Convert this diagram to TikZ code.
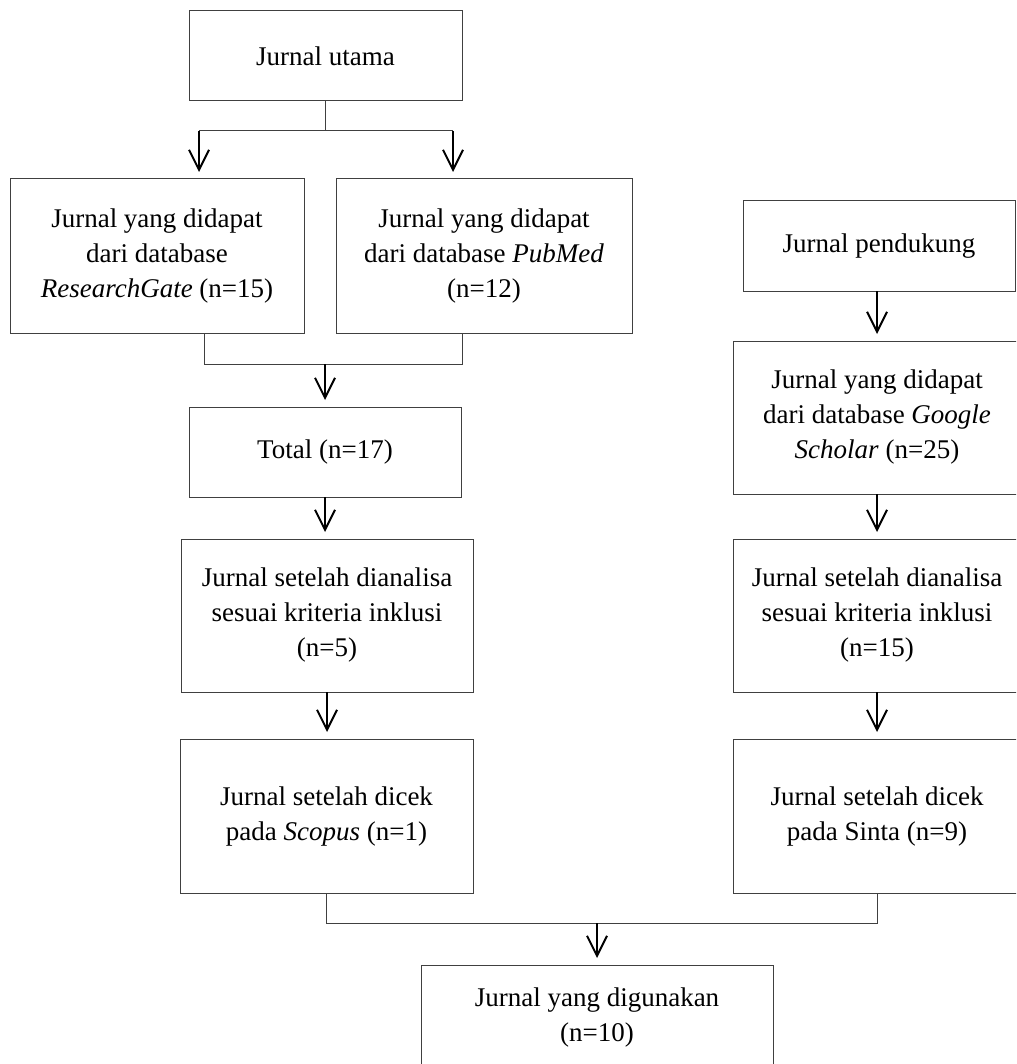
\documentclass[tikz,border=0pt]{standalone}
\usepackage{fontspec}
\setmainfont{Liberation Serif}
\usetikzlibrary{arrows.meta}
\begin{document}
\begin{tikzpicture}[x=0.5pt,y=-0.5pt,
  box/.style={draw=black!75, line width=0.5pt, inner sep=0pt, outer sep=0pt, align=center, font=\fontsize{13.5}{17.5}\selectfont},
  link/.style={draw=black!75, line width=0.5pt},
  arr/.style={draw=black, line width=1pt, -{Straight Barb[length=10pt,width=10pt,line width=1pt]}, shorten >=3.5pt}]
\useasboundingbox (0,0) rectangle (1016,1064);
\clip (0,0) rectangle (1016,1064);
\node[box, minimum width=136.5pt, minimum height=45pt] (utama) at (325.5,56) {Jurnal utama};
\node[box, minimum width=147pt, minimum height=77pt] (rg) at (157,256) {Jurnal yang didapat\\dari database\\\textit{ResearchGate} (n=15)};
\node[box, minimum width=148pt, minimum height=77pt] (pm) at (484,256) {Jurnal yang didapat\\dari database \textit{PubMed}\\(n=12)};
\node[box, minimum width=136pt, minimum height=45pt] (pend) at (879,246) {Jurnal pendukung};
\node[box, minimum width=144pt, minimum height=76.5pt] (gs) at (877,417.5) {Jurnal yang didapat\\dari database \textit{Google}\\\textit{Scholar} (n=25)};
\node[box, minimum width=136pt, minimum height=45pt] (total) at (325,452) {Total (n=17)};
\node[box, minimum width=146pt, minimum height=76.5pt] (anl) at (327,615.5) {Jurnal setelah dianalisa\\sesuai kriteria inklusi\\(n=5)};
\node[box, minimum width=144pt, minimum height=76.5pt] (anr) at (877,615.5) {Jurnal setelah dianalisa\\sesuai kriteria inklusi\\(n=15)};
\node[box, minimum width=146.5pt, minimum height=77pt] (scopus) at (326.5,816) {Jurnal setelah dicek\\pada \textit{Scopus} (n=1)};
\node[box, minimum width=144pt, minimum height=77pt] (sinta) at (877,816) {Jurnal setelah dicek\\pada Sinta (n=9)};
\node[box, minimum width=176pt, minimum height=52pt] (final) at (597,1017) {Jurnal yang digunakan\\(n=10)};
% top split
\coordinate (sL) at (199,131);
\coordinate (sR) at (453,131);
\draw[link] (utama.south) -- (utama.south |- sL);
\draw[link] (sL) -- (sR);
\draw[arr] (sL) -- (sL |- rg.north);
\draw[arr] (sR) -- (sR |- pm.north);
% merge to total
\coordinate (mL) at (204,364);
\coordinate (mR) at (462,364);
\draw[link] (mL |- rg.south) -- (mL) -- (mR) -- (mR |- pm.south);
\draw[arr] (total.north |- mL) -- (total.north);
\draw[arr] (total.south) -- (total.south |- anl.north);
\draw[arr] (anl.south) -- (anl.south |- scopus.north);
% right column
\draw[arr] (gs.north |- pend.south) -- (gs.north);
\draw[arr] (gs.south) -- (anr.north);
\draw[arr] (anr.south) -- (sinta.north);
% bottom merge
\coordinate (bL) at (326.5,923);
\draw[link] (scopus.south) -- (scopus.south |- bL) -- (sinta.south |- bL) -- (sinta.south);
\draw[arr] (final.north |- bL) -- (final.north);
\end{tikzpicture}
\end{document}
